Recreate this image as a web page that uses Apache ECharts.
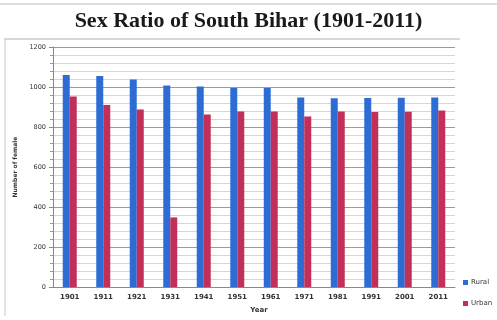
<!DOCTYPE html>
<html>
<head>
<meta charset="utf-8">
<script src="https://cdn.jsdelivr.net/npm/echarts@6/dist/echarts.min.js"></script>
<style>
html,body{margin:0;padding:0;background:#fff;}
#chart{width:497px;height:320px;}
</style>
</head>
<body>
<div id="chart"></div>
<script>
// Census years and sex ratio (females per 1000 males)
const years = ['1901','1911','1921','1931','1941','1951','1961','1971','1981','1991','2001','2011'];
const rural = [1060, 1055, 1038, 1008, 1003, 995, 995, 948, 944, 945, 946, 948];
const urban = [952, 910, 888, 348, 862, 877, 878, 853, 877, 875, 876, 882];
const yTicks = [0, 200, 400, 600, 800, 1000, 1200];

const chart = echarts.init(document.getElementById('chart'), null, {renderer: 'canvas'});
chart.setOption({
  backgroundColor: '#ffffff',
  animation: false,
  title: {
    text: 'Sex Ratio of South Bihar (1901-2011)',
    left: 'center',
    top: 5,
    textStyle: {fontFamily: 'Liberation Serif', fontWeight: 'bold', fontSize: 22, color: '#1a1a1a'}
  },
  graphic: [
    {type: 'line', shape: {x1: 0, y1: 4, x2: 497, y2: 4}, style: {stroke: '#bbbbbb', lineWidth: 1}},
    {type: 'line', shape: {x1: 4, y1: 39, x2: 460, y2: 39}, style: {stroke: '#b0b0b0', lineWidth: 1}},
    {type: 'line', shape: {x1: 5, y1: 39, x2: 5, y2: 316}, style: {stroke: '#c8c8c8', lineWidth: 1}}
  ],
  legend: {
    orient: 'vertical',
    left: 458,
    top: 274,
    itemWidth: 5,
    itemHeight: 5,
    itemGap: 14,
    icon: 'rect',
    textStyle: {fontFamily: 'DejaVu Sans', fontSize: 7, color: '#333', padding: [0, 0, 0, -2]},
    data: ['Rural', 'Urban']
  },
  grid: {left: 53, right: 42, top: 47, bottom: 33},
  xAxis: {
    type: 'category',
    data: years,
    name: 'Year',
    nameLocation: 'middle',
    nameGap: 20,
    nameTextStyle: {fontFamily: 'DejaVu Sans', fontWeight: 'bold', fontSize: 7, color: '#333', padding: [0, 0, 0, 10]},
    axisLine: {lineStyle: {color: '#888'}},
    axisTick: {show: false},
    axisLabel: {fontFamily: 'DejaVu Sans', fontWeight: 'bold', fontSize: 7, color: '#333', margin: 7}
  },
  yAxis: {
    type: 'value',
    min: yTicks[0],
    max: yTicks[yTicks.length - 1],
    interval: 200,
    name: 'Number of female',
    nameLocation: 'middle',
    nameGap: 30,
    nameTextStyle: {fontFamily: 'DejaVu Sans', fontWeight: 'bold', fontSize: 6, color: '#333'},
    axisLine: {show: true, lineStyle: {color: '#888'}},
    axisTick: {show: true, length: 4, lineStyle: {color: '#888'}},
    minorTick: {show: true, splitNumber: 5, length: 3, lineStyle: {color: '#999'}},
    axisLabel: {fontFamily: 'DejaVu Sans', fontSize: 6.5, color: '#333', margin: 7, formatter: v => String(v)},
    splitLine: {show: true, lineStyle: {color: '#9a9a9a', width: 1}},
    minorSplitLine: {show: true, lineStyle: {color: '#d6d6d6', width: 1}}
  },
  series: [
    {
      name: 'Rural',
      type: 'bar',
      data: rural,
      barWidth: 7,
      barGap: '0%',
      itemStyle: {color: '#2d6cd4'}
    },
    {
      name: 'Urban',
      type: 'bar',
      data: urban,
      barWidth: 7,
      itemStyle: {color: '#c2305a'}
    }
  ]
});
</script>
</body>
</html>
